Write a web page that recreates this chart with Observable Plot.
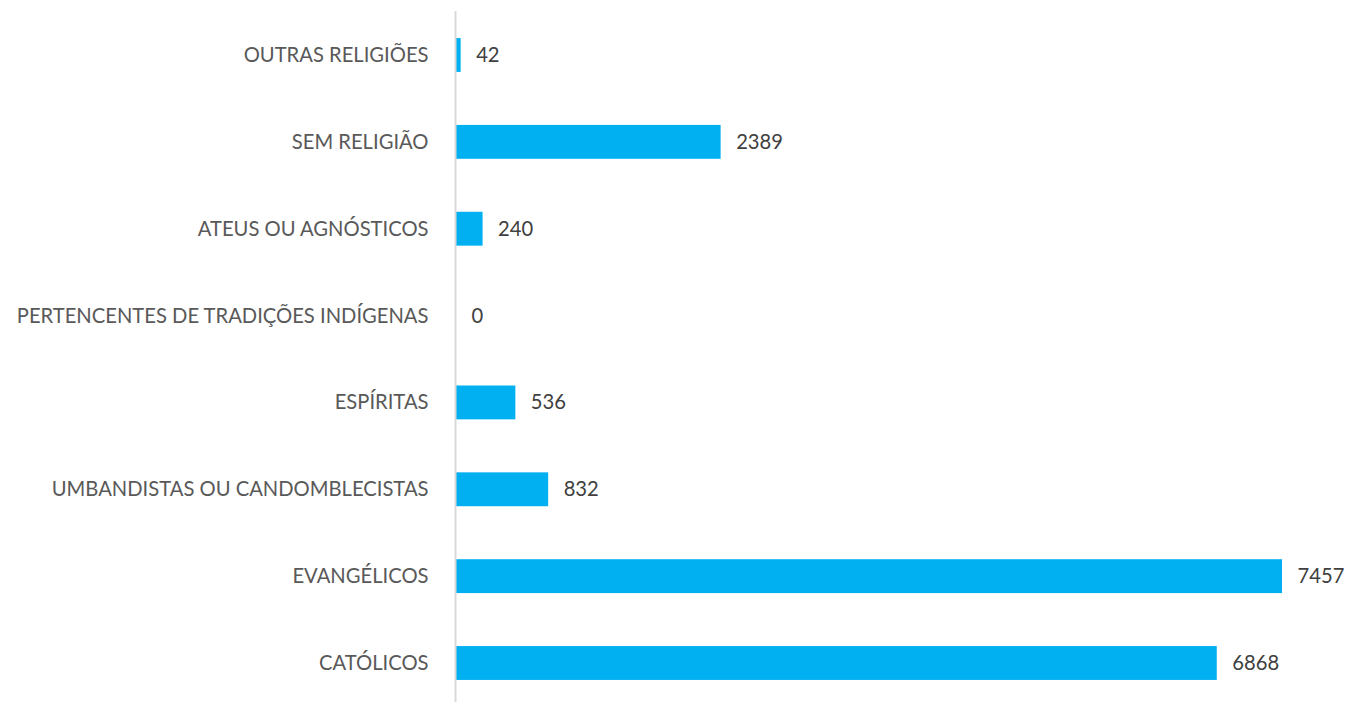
<!DOCTYPE html>
<html>
<head>
<meta charset="utf-8">
<script src="https://cdn.jsdelivr.net/npm/d3@7"></script>
<script src="https://cdn.jsdelivr.net/npm/@observablehq/plot@0.6"></script>
<style>
  html, body { margin: 0; padding: 0; background: #fff; }
  #chart { width: 1346px; height: 702px; }
</style>
</head>
<body>
<div id="chart"></div>
<script>
const categories = [
  "OUTRAS RELIGIÕES",
  "SEM RELIGIÃO",
  "ATEUS OU AGNÓSTICOS",
  "PERTENCENTES DE TRADIÇÕES INDÍGENAS",
  "ESPÍRITAS",
  "UMBANDISTAS OU CANDOMBLECISTAS",
  "EVANGÉLICOS",
  "CATÓLICOS"
];
const values = [42, 2389, 240, 0, 536, 832, 7457, 6868];

const data = categories.map((c, i) => ({category: c, value: values[i]}));

const chart = Plot.plot({
  width: 1346,
  height: 702,
  marginTop: 11,
  marginBottom: 0,
  marginLeft: 456,
  marginRight: 64,
  style: {fontFamily: "Lato, sans-serif", fontSize: "20.2px", color: "#595959", background: "#fff"},
  x: {domain: [0, 7457], range: [456, 1282], axis: null},
  y: {domain: categories, range: [11.57, 706.43], paddingInner: 0.61, paddingOuter: 0.305, round: false, label: null},
  marks: [
    Plot.barX(data, {x: "value", y: "category", fill: "#00B0F0"}),
    Plot.ruleX([0], {stroke: "#d9d9d9", strokeWidth: 2, dx: -1}),
    Plot.text(data, {x: "value", y: "category", text: d => String(d.value), textAnchor: "start", dx: 15, fill: "#404040", fontSize: 20.2}),
    Plot.axisY({tickSize: 0, tickPadding: 28, fontSize: 20.2, fill: "#595959", label: null})
  ]
});
document.getElementById("chart").appendChild(chart);
</script>
</body>
</html>
